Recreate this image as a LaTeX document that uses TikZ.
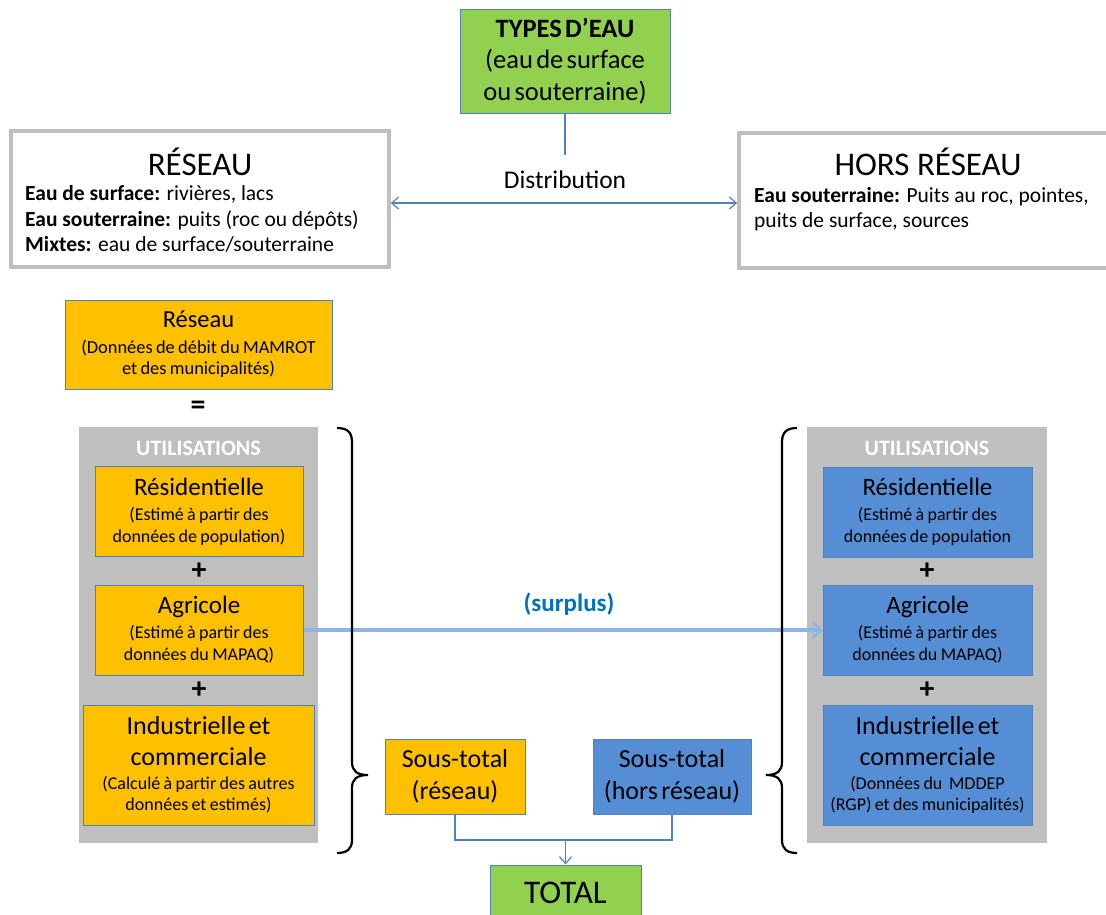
\documentclass[tikz,border=0pt]{standalone}
\usepackage{fontspec}
\setmainfont{Carlito}
\usetikzlibrary{arrows.meta}
\definecolor{orangeC}{HTML}{FFC000}
\definecolor{blueC}{HTML}{558ED5}
\definecolor{bordB}{HTML}{4F81BD}
\definecolor{greenC}{HTML}{92D050}
\definecolor{grayC}{HTML}{BFBFBF}
\definecolor{arrowC}{HTML}{8EB4E3}
\definecolor{surplusC}{HTML}{0070C0}
\newcommand{\fs}[2]{\fontsize{#1}{#2}\selectfont}
\tikzset{
  box/.style={draw=bordB, line width=1pt, inner sep=0pt, align=center},
  obox/.style={box, fill=orangeC},
  bbox/.style={box, fill=blueC},
  gbox/.style={box, fill=greenC},
  panel/.style={fill=grayC, inner sep=0pt},
  netbox/.style={draw=grayC, line width=3.5pt, fill=white, inner sep=0pt},
  conn/.style={draw=bordB, line width=1.2pt},
  brace/.style={draw=black, line width=2.2pt},
  opsign/.style={font=\fs{30}{34}\bfseries, inner sep=0pt},
}
\begin{document}
\begin{tikzpicture}[x=1pt,y=-1pt]
\useasboundingbox (0,0) rectangle (1106,914);

% Top: types d'eau
\node[gbox, minimum width=210pt, minimum height=104pt, text width=208pt] (types) at (565,61)
  {\fs{26.5}{31.5}\textbf{TYPES D’EAU}\par (eau de surface\par ou souterraine)\par};

% Réseau / Hors réseau boxes
\node[netbox, minimum width=378pt, minimum height=136pt] (res) at (200,199) {};
\node[inner sep=0pt, font=\fs{33}{38}] (restitle) at (200,162) {RÉSEAU};
\node[inner sep=0pt, anchor=west, align=left, font=\fs{21.5}{25.5}] (restext) at (25,219)
  {\textbf{Eau de surface:} rivières, lacs\\ \textbf{Eau souterraine:} puits (roc ou dépôts)\\ \textbf{Mixtes:} eau de surface/souterraine};

\node[netbox, minimum width=380pt, minimum height=135pt] (hors) at (929,200.5) {};
\node[inner sep=0pt, font=\fs{33}{38}] (horstitle) at (928,162) {HORS RÉSEAU};
\node[inner sep=0pt, anchor=west, align=left, font=\fs{21.5}{25.5}] (horstext) at (754,209)
  {\textbf{Eau souterraine:} Puits au roc, pointes,\\ puits de surface, sources};

% Distribution
\coordinate (dtop) at (565,155);
\coordinate (dist) at (565,203);
\draw[conn] (types.south) -- (dtop);
\node[inner sep=0pt, font=\fs{25.5}{30}] (distlabel) at (565,180) {Distribution};
\draw[conn, {Straight Barb[length=7pt,width=12pt]}-{Straight Barb[length=7pt,width=12pt]}]
  (res.east |- dist) -- (hors.west |- dist);

% Réseau orange box
\node[obox, minimum width=267pt, minimum height=89pt, text width=265pt] (reseau) at (198.5,344.5)
  {\fs{24.5}{27}Réseau\par\vspace{5pt}\fs{18.4}{21}(Données de débit du MAMROT\par et des municipalités)\par};
\node[opsign] (eq) at (198,408) {=};

% Left panel
\node[panel, minimum width=239pt, minimum height=416pt] (lpanel) at (198.5,635) {};
\node[inner sep=0pt, text=white, font=\fs{22}{26}\bfseries] (lutil) at (198.5,448) {UTILISATIONS};
\node[obox, minimum width=208pt, minimum height=90pt, text width=206pt] (lres) at (199,511.5)
  {\fs{25}{27}Résidentielle\par\vspace{3pt}\fs{18}{22}(Estimé à partir des\par données de population)\par};
\node[opsign] (lp1) at (199,571) {+};
\node[obox, minimum width=208pt, minimum height=90pt, text width=206pt] (lagr) at (199,630)
  {\fs{25}{27}Agricole\par\vspace{3pt}\fs{18}{22}(Estimé à partir des\par données du MAPAQ)\par};
\node[opsign] (lp2) at (199,690) {+};
\node[obox, minimum width=231pt, minimum height=120pt, text width=229pt] (lind) at (198.5,765)
  {\fs{26}{31}Industrielle et\par commerciale\par\vspace{3pt}\fs{18}{21}(Calculé à partir des autres\par données et estimés)\par};

% Right panel
\node[panel, minimum width=240pt, minimum height=416pt] (rpanel) at (927,635) {};
\node[inner sep=0pt, text=white, font=\fs{22}{26}\bfseries] (rutil) at (927,448) {UTILISATIONS};
\node[bbox, minimum width=209pt, minimum height=90pt, text width=207pt] (rres) at (927.5,512)
  {\fs{25}{27}Résidentielle\par\vspace{3pt}\fs{18}{22}(Estimé à partir des\par données de population\par};
\node[opsign] (rp1) at (927,571) {+};
\node[bbox, minimum width=209pt, minimum height=90pt, text width=207pt] (ragr) at (927.5,630)
  {\fs{25}{27}Agricole\par\vspace{3pt}\fs{18}{22}(Estimé à partir des\par données du MAPAQ)\par};
\node[opsign] (rp2) at (927,690) {+};
\node[bbox, minimum width=209pt, minimum height=120pt, text width=207pt] (rind) at (927.5,765)
  {\fs{26}{31}Industrielle et\par commerciale\par\vspace{3pt}\fs{18}{21}(Données du\ \ MDDEP\par (RGP) et des municipalités)\par};

% Surplus arrow
\draw[draw=arrowC, line width=3.2pt, -{Straight Barb[length=8pt,width=16pt,line width=2.5pt]}]
  (lagr.east) -- (ragr.west);
\node[inner sep=0pt, text=surplusC, font=\fs{25}{30}\bfseries] (surplus) at (569,604) {(surplus)};

% Braces
\coordinate (lbtip) at (368,775);
\coordinate (rbtip) at (766,775);
\draw[brace] (337,428) .. controls (347,428) and (352,432) .. (352,442) -- (352,762)
  .. controls (352,771) and (357,775) .. (lbtip)
  .. controls (357,775) and (352,779) .. (352,788) -- (352,840)
  .. controls (352,849) and (347,853) .. (337,853);
\draw[brace] (797,428) .. controls (787,428) and (782,432) .. (782,442) -- (782,762)
  .. controls (782,771) and (777,775) .. (rbtip)
  .. controls (777,775) and (782,779) .. (782,788) -- (782,840)
  .. controls (782,849) and (787,853) .. (797,853);

% Subtotals and total
\node[obox, minimum width=140pt, minimum height=75pt, text width=138pt] (st1) at (455,776.5)
  {\fs{26}{32}Sous-total\par (réseau)\par};
\node[bbox, minimum width=158pt, minimum height=75pt, text width=156pt] (st2) at (672,776.5)
  {\fs{26}{32}Sous-total\par (hors réseau)\par};
\node[gbox, minimum width=151pt, minimum height=56pt, text width=149pt] (total) at (565.5,893)
  {\fs{33}{38}TOTAL\par};
\coordinate (join) at (565.5,840);
\draw[conn] (st1.south) |- (join) -| (st2.south);
\draw[conn, -{Straight Barb[length=7pt,width=12pt]}] (join) -- (total.north);
\end{tikzpicture}
\end{document}
